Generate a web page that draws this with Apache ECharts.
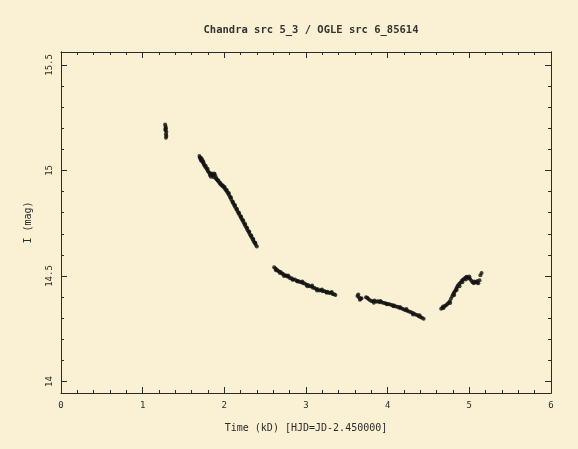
<!DOCTYPE html>
<html>
<head>
<meta charset="utf-8">
<script src="https://cdn.jsdelivr.net/npm/echarts@6/dist/echarts.min.js"></script>
<style>
html,body{margin:0;padding:0;background:#FAF0D3;}
#chart{width:578px;height:449px;}
</style>
</head>
<body>
<div id="chart"></div>
<script>
var titleText = 'Chandra src 5_3 / OGLE src 6_85614';
var xTitle = 'Time (kD) [HJD=JD-2.450000]';
var yTitle = 'I (mag)';
var yMajorTicks = [14, 14.5, 15, 15.5];
var yMinorTicks = [14.1,14.2,14.3,14.4,14.6,14.7,14.8,14.9,15.1,15.2,15.3,15.4];

// segment 1
var seg1X = [1.275,1.280,1.285,1.280,1.290,1.285,1.290,1.285,1.278];
var seg1Y = [15.218,15.208,15.200,15.190,15.182,15.172,15.163,15.155,15.196];
// segment 2
var seg2X = [1.695,1.705,1.712,1.720,1.728,1.738,1.745,1.755,1.765,1.778,1.790,1.800,1.812,1.822,1.835,1.845,1.858,1.870,1.882,1.895,1.905,1.918,1.930,1.945,1.958,1.972,1.985,1.998,2.010,2.022,2.035,2.048,2.060,2.072,2.085,2.098,2.110,2.122,2.135,2.148,2.160,2.172,2.185,2.198,2.210,2.222,2.235,2.248,2.260,2.272,2.285,2.298,2.310,2.322,2.335,2.348,2.360,2.372,2.385,2.398,
  1.700,1.716,1.733,1.750,1.772,1.795,1.828,1.850,1.876,1.900,1.925,1.952,1.980,2.004,2.030,2.055,2.080,2.105,2.130,2.155,2.180,2.205,2.230,2.255,2.280,2.305,2.330,2.355,2.380];
var seg2Y = [15.068,15.060,15.052,15.058,15.045,15.036,15.040,15.025,15.018,15.012,15.003,14.996,14.990,14.978,14.970,14.985,14.976,14.968,14.982,14.970,14.958,14.952,14.946,14.938,14.934,14.928,14.924,14.918,14.912,14.905,14.898,14.890,14.882,14.872,14.862,14.852,14.843,14.834,14.826,14.816,14.808,14.799,14.790,14.781,14.772,14.764,14.755,14.745,14.736,14.727,14.717,14.708,14.699,14.691,14.682,14.673,14.664,14.656,14.648,14.640,
  15.060,15.046,15.048,15.030,15.022,15.008,14.986,14.978,14.986,14.962,14.954,14.940,14.930,14.922,14.908,14.893,14.873,14.852,14.836,14.818,14.800,14.782,14.764,14.746,14.728,14.711,14.692,14.675,14.658];
// segment 3
var seg3X = [2.610,2.625,2.640,2.655,2.670,2.690,2.705,2.720,2.740,2.755,2.770,2.790,2.805,2.825,2.845,2.865,2.885,2.905,2.925,2.945,2.965,2.985,3.005,3.025,3.045,3.065,3.085,3.105,3.125,3.145,3.165,3.185,3.205,3.225,3.245,3.265,3.285,3.305,3.325,3.345,3.360,
  2.632,2.680,2.730,2.780,2.835,2.895,2.955,3.015,3.075,3.135,3.195,3.255,3.315];
var seg3Y = [14.542,14.536,14.531,14.525,14.522,14.519,14.512,14.510,14.504,14.503,14.498,14.496,14.490,14.489,14.484,14.483,14.478,14.477,14.472,14.471,14.466,14.465,14.459,14.458,14.452,14.450,14.445,14.443,14.438,14.437,14.432,14.433,14.428,14.429,14.424,14.426,14.420,14.421,14.415,14.414,14.410,
  14.527,14.514,14.500,14.503,14.482,14.474,14.474,14.452,14.455,14.432,14.436,14.421,14.424];
// segment 4
var seg4X = [3.630,3.640,3.650,3.660,3.680,3.735,3.760,3.780,3.800,3.820,3.840,3.860,3.880,3.900,3.920,3.940,3.960,3.980,4.000,4.020,4.040,4.060,4.080,4.100,4.120,4.140,4.160,4.180,4.200,4.220,4.240,4.260,4.280,4.300,4.320,4.340,4.360,4.380,4.400,4.420,4.440,
  3.670,3.750,3.830,3.910,3.990,4.070,4.150,4.230,4.310,4.390];
var seg4Y = [14.405,14.412,14.398,14.388,14.395,14.400,14.392,14.386,14.382,14.380,14.384,14.378,14.380,14.376,14.378,14.374,14.372,14.370,14.368,14.366,14.364,14.362,14.360,14.356,14.354,14.350,14.348,14.345,14.342,14.338,14.336,14.332,14.330,14.326,14.322,14.318,14.315,14.310,14.306,14.302,14.298,
  14.392,14.397,14.374,14.382,14.366,14.357,14.353,14.344,14.318,14.314];
// segment 5
var seg5X = [4.655,4.670,4.685,4.700,4.715,4.730,4.745,4.760,4.775,4.790,4.800,4.810,4.820,4.830,4.840,4.850,4.860,4.875,4.890,4.905,4.920,4.935,4.950,4.965,4.980,4.995,5.010,5.025,5.040,5.055,5.075,5.095,5.110,5.125,5.135,5.150,
  4.678,4.765,4.815,4.845,4.880,4.915,4.958,5.000,5.060,5.100];
var seg5Y = [14.345,14.350,14.348,14.358,14.362,14.368,14.372,14.380,14.392,14.404,14.412,14.420,14.426,14.432,14.440,14.448,14.455,14.462,14.468,14.476,14.482,14.486,14.492,14.497,14.494,14.490,14.486,14.478,14.470,14.466,14.472,14.468,14.466,14.480,14.504,14.514,
  14.356,14.372,14.410,14.434,14.452,14.470,14.484,14.498,14.474,14.476];

var allX = seg1X.concat(seg2X, seg3X, seg4X, seg5X);
var allY = seg1Y.concat(seg2Y, seg3Y, seg4Y, seg5Y);
var points = allX.map(function(x, i){ return [x, allY[i]]; });

var ink = '#2b2b2b';
var font = 'DejaVu Sans Mono';
var yMin = 13.946, yMax = 15.561;

function yAx(pos, ticks, len, labels, named){
  var a = {
    type:'value', position:pos, min:yMin, max:yMax,
    axisLine:{show:true, lineStyle:{color:ink, width:1}},
    axisTick:{show:true, inside:true, length:len, customValues:ticks, lineStyle:{color:ink, width:1}},
    axisLabel:{show:labels, customValues:ticks, rotate:90, fontSize:9, color:ink, margin:7, fontFamily:font},
    splitLine:{show:false}
  };
  if (named) {
    a.name = yTitle; a.nameLocation = 'middle'; a.nameGap = 28; a.nameRotate = 90;
    a.nameTextStyle = {fontSize:10, color:ink, fontFamily:font};
  }
  return a;
}
function xAx(pos, labels){
  var a = {
    type:'value', position:pos, min:0, max:6, interval:1,
    axisLine:{show:true, lineStyle:{color:ink, width:1}},
    axisTick:{show:true, inside:true, length:6, lineStyle:{color:ink}},
    minorTick:{show:true, splitNumber:5, length:3, lineStyle:{color:ink}},
    axisLabel:{show:labels, fontSize:9, color:ink, margin:8, fontFamily:font},
    splitLine:{show:false}
  };
  if (labels) {
    a.name = xTitle; a.nameLocation = 'middle'; a.nameGap = 30;
    a.nameTextStyle = {fontSize:10, color:ink, fontFamily:font};
  }
  return a;
}

var chart = echarts.init(document.getElementById('chart'), null, {renderer:'canvas'});
chart.setOption({
  backgroundColor:'#FAF0D3',
  animation:false,
  title:{text:titleText, left:306, top:20, textAlign:'center',
    textStyle:{fontSize:10.5, fontWeight:'bold', color:'#333', fontFamily:font}},
  grid:{left:61, right:27, top:52, bottom:56},
  xAxis:[xAx('bottom', true), xAx('top', false)],
  yAxis:[
    yAx('left', yMajorTicks, 6, true, true),
    yAx('left', yMinorTicks, 3, false, false),
    yAx('right', yMajorTicks, 6, false, false),
    yAx('right', yMinorTicks, 3, false, false)
  ],
  series:[{
    type:'scatter', xAxisIndex:0, yAxisIndex:0,
    symbol:'circle', symbolSize:4,
    itemStyle:{color:'#111'},
    data:points
  }]
});
</script>
</body>
</html>
